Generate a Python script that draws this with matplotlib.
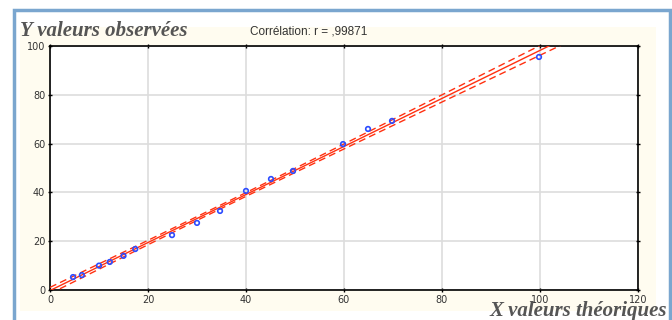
import numpy as np
import matplotlib
matplotlib.use("Agg")
import matplotlib.pyplot as plt
from matplotlib.patches import Rectangle

x_theo = [4.7, 6.5, 10, 12.2, 15, 17.4, 24.9, 30, 34.7, 40, 45.1, 49.6, 59.8, 64.9, 69.8, 99.8]
y_obs = [5.3, 6.1, 10, 11.5, 14, 16.8, 22.5, 27.5, 32.4, 40.6, 45.5, 48.8, 59.8, 66, 69.3, 95.5]
corr_label = "Corrélation: r = ,99871"
x_ticks = [0, 20, 40, 60, 80, 100, 120]
y_ticks = [0, 20, 40, 60, 80, 100]

x = np.array(x_theo)
y = np.array(y_obs)

# regression line + 95% confidence bands
b, a = np.polyfit(x, y, 1)
n = len(x)
resid = y - (a + b * x)
s = np.sqrt(np.sum(resid ** 2) / (n - 2))
xs = np.linspace(0, 125, 300)
se = s * np.sqrt(1 / n + (xs - x.mean()) ** 2 / np.sum((x - x.mean()) ** 2))
yfit = a + b * xs
t = 2.145

fig = plt.figure(figsize=(6.72, 3.2), dpi=100)
W, H = 672, 320

# outer frame and cream panel
fig.patches.append(Rectangle((20 / W, 1 - 311 / H), 636 / W, 284 / H,
                             transform=fig.transFigure, facecolor="#fffcf0",
                             edgecolor="none", zorder=0))
fig.patches.append(Rectangle((14 / W, -0.05), 656 / W, 1 - 10 / H + 0.05,
                             transform=fig.transFigure, facecolor="none",
                             edgecolor="#7aa6cf", linewidth=2.5, zorder=1))

ax = fig.add_axes([50 / W, 1 - 290 / H, 588 / W, 244 / H])
ax.set_zorder(3)
ax.set_facecolor("white")
ax.set_xlim(0, 120)
ax.set_ylim(0, 100)
ax.set_xticks(x_ticks)
ax.set_yticks(y_ticks)
ax.grid(True, color="#dddddd", linewidth=1.2)
ax.set_axisbelow(True)
for sp in ax.spines.values():
    sp.set_color("black")
    sp.set_linewidth(1.2)
ax.tick_params(direction="inout", length=3, width=1, labelsize=7,
               labelcolor="#333333", pad=2, top=True, right=True)

ax.plot(xs, yfit, color="#ff3010", linewidth=1.0, zorder=3)
ax.plot(xs, yfit + t * se, color="#ff3010", linewidth=1.0, linestyle=(0, (5, 3)), zorder=3)
ax.plot(xs, yfit - t * se, color="#ff3010", linewidth=1.0, linestyle=(0, (5, 3)), zorder=3)
ax.scatter(x, y, s=11, facecolors="none", edgecolors="#2c4cff", linewidths=1.2, zorder=4)

fig.text(20 / W, 1 - 31 / H, "Y valeurs observées", family="Liberation Serif",
         style="italic", weight="bold", fontsize=15, color="#555555", va="center",
         zorder=5)
fig.text(250 / W, 1 - 31 / H, corr_label, fontsize=8.5, color="#333333", va="center",
         family="Liberation Sans", zorder=5)
fig.text(490 / W, 1 - 311 / H, "X valeurs théoriques", family="Liberation Serif",
         style="italic", weight="bold", fontsize=15, color="#555555", va="center",
         zorder=5)

fig.savefig("out.png", dpi=100)
